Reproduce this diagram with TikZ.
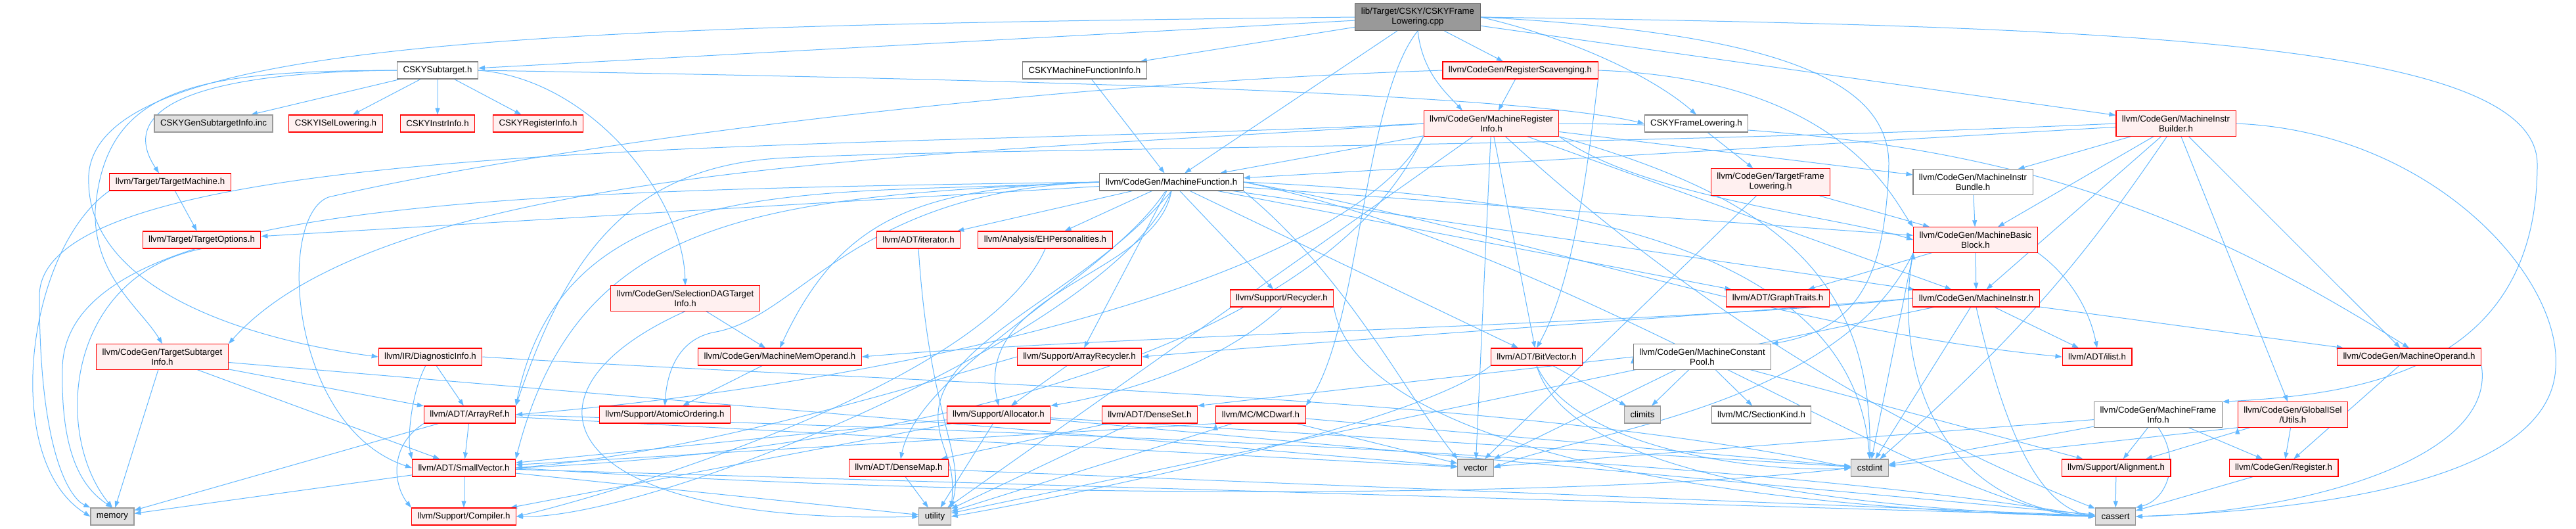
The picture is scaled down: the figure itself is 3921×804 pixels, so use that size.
\documentclass[tikz,border=0pt]{standalone}
\usepackage{fontspec}
\setmainfont{Liberation Sans}
\usetikzlibrary{arrows.meta}
\definecolor{edgeblue}{HTML}{63B8FF}
\definecolor{redfill}{HTML}{FFF0F0}
\definecolor{greyfill}{HTML}{E0E0E0}
\definecolor{greyline}{HTML}{999999}
\definecolor{plainline}{HTML}{808080}
\definecolor{rootfill}{HTML}{999999}
\definecolor{rootline}{HTML}{666666}
\pgfdeclarelayer{edges}
\pgfsetlayers{edges,main}

\begin{document}
\begin{tikzpicture}[x=1pt, y=1pt,
  box/.style={rectangle, align=center, line width=1.1pt, inner xsep=9pt, inner ysep=6.8pt,
              minimum height=26pt, font=\fontsize{13.3}{15}\selectfont},
  redbox/.style={box, draw=red, fill=redfill},
  greybox/.style={box, draw=greyline, fill=greyfill},
  plainbox/.style={box, draw=plainline, fill=white},
  rootbox/.style={box, draw=rootline, fill=rootfill},
  dep/.style={edgeblue, line width=1pt, -{Triangle[length=10pt,width=7pt]}}]
  \useasboundingbox (0,0) rectangle (3921,-804);
  % The source file
  \node[rootbox] (root) at (2158,-26) {lib/Target/CSKY/CSKYFrame\\Lowering.cpp};
  % Row 1
  \node[plainbox] (sub) at (666,-107) {CSKYSubtarget.h};
  \node[plainbox] (mfi) at (1651,-107) {CSKYMachineFunctionInfo.h};
  \node[redbox] (rs) at (2314,-107) {llvm/CodeGen/RegisterScavenging.h};
  % Row 2
  \node[greybox] (gen) at (325,-188) {CSKYGenSubtargetInfo.inc};
  \node[redbox] (isel) at (511,-188) {CSKYISelLowering.h};
  \node[redbox] (iinfo) at (666,-188) {CSKYInstrInfo.h};
  \node[redbox] (rinfo) at (819,-188) {CSKYRegisterInfo.h};
  \node[redbox] (mri) at (2270,-188) {llvm/CodeGen/MachineRegister\\Info.h};
  \node[plainbox] (cfl) at (2582,-188) {CSKYFrameLowering.h};
  \node[redbox] (mib) at (3312,-188) {llvm/CodeGen/MachineInstr\\Builder.h};
  % Row 3
  \node[redbox] (tm) at (259,-277) {llvm/Target/TargetMachine.h};
  \node[plainbox] (mf) at (1783,-277) {llvm/CodeGen/MachineFunction.h};
  \node[redbox] (tfl) at (2695,-277) {llvm/CodeGen/TargetFrame\\Lowering.h};
  \node[plainbox] (mibn) at (3003,-277) {llvm/CodeGen/MachineInstr\\Bundle.h};
  % Row 4
  \node[redbox] (to) at (307,-365) {llvm/Target/TargetOptions.h};
  \node[redbox] (iter) at (1398,-365) {llvm/ADT/iterator.h};
  \node[redbox] (ehp) at (1591,-365) {llvm/Analysis/EHPersonalities.h};
  \node[redbox] (mbb) at (3007,-365) {llvm/CodeGen/MachineBasic\\Block.h};
  % Row 5
  \node[redbox] (sdag) at (1043,-454) {llvm/CodeGen/SelectionDAGTarget\\Info.h};
  \node[redbox] (rec) at (1951,-454) {llvm/Support/Recycler.h};
  \node[redbox] (gt) at (2706,-454) {llvm/ADT/GraphTraits.h};
  \node[redbox] (mi) at (3008,-454) {llvm/CodeGen/MachineInstr.h};
  % Row 6
  \node[redbox] (tsi) at (247,-543) {llvm/CodeGen/TargetSubtarget\\Info.h};
  \node[redbox] (diag) at (655,-543) {llvm/IR/DiagnosticInfo.h};
  \node[redbox] (mmo) at (1187,-543) {llvm/CodeGen/MachineMemOperand.h};
  \node[redbox] (arec) at (1643,-543) {llvm/Support/ArrayRecycler.h};
  \node[redbox] (bv) at (2339,-543) {llvm/ADT/BitVector.h};
  \node[plainbox] (mcp) at (2591,-543) {llvm/CodeGen/MachineConstant\\Pool.h};
  \node[redbox] (ilist) at (3192,-543) {llvm/ADT/ilist.h};
  \node[redbox] (mo) at (3667,-543) {llvm/CodeGen/MachineOperand.h};
  % Row 7
  \node[redbox] (aref) at (715,-631) {llvm/ADT/ArrayRef.h};
  \node[redbox] (ao) at (1012,-631) {llvm/Support/AtomicOrdering.h};
  \node[redbox] (alloc) at (1520,-631) {llvm/Support/Allocator.h};
  \node[redbox] (dset) at (1750,-631) {llvm/ADT/DenseSet.h};
  \node[redbox] (mcd) at (1919,-631) {llvm/MC/MCDwarf.h};
  \node[greybox] (climits) at (2500,-631) {climits};
  \node[plainbox] (sk) at (2681,-631) {llvm/MC/SectionKind.h};
  \node[plainbox] (mfri) at (3285,-631) {llvm/CodeGen/MachineFrame\\Info.h};
  \node[redbox] (gisel) at (3490,-631) {llvm/CodeGen/GlobalISel\\/Utils.h};
  % Row 8
  \node[redbox] (sv) at (706,-712) {llvm/ADT/SmallVector.h};
  \node[redbox] (dmap) at (1368,-712) {llvm/ADT/DenseMap.h};
  \node[greybox] (vector) at (2246,-712) {vector};
  \node[greybox] (cstdint) at (2846,-712) {cstdint};
  \node[redbox] (align) at (3221,-712) {llvm/Support/Alignment.h};
  \node[redbox] (reg) at (3476,-712) {llvm/CodeGen/Register.h};
  % Row 9
  \node[greybox] (memory) at (171,-786) {memory};
  \node[redbox] (comp) at (706,-786) {llvm/Support/Compiler.h};
  \node[greybox] (utility) at (1423,-786) {utility};
  \node[greybox] (cassert) at (3220,-786) {cassert};

  \begin{pgfonlayer}{edges}
  % Includes of the source file
  \draw[dep] (root) edge (sub) edge (mfi) edge (rs) edge (mib) edge (mf);
  \draw[dep] (root.west) .. controls (800,-40) and (120,-60) .. (135,-280)
             .. controls (140,-450) and (400,-520) .. (diag.west);
  \draw[dep] (root.east) .. controls (3200,-40) and (3862,-60) .. (3862,-250)
             .. controls (3862,-560) and (3600,-600) .. (mfri.north east);
  \draw[dep] (root.east) .. controls (2700,-50) and (2875,-120) .. (2875,-250)
             .. controls (2870,-420) and (2830,-500) .. (mcp.north east);
  \draw[dep] (root.south) .. controls (2075,-150) and (2070,-500) .. (mcd.north east);
  \draw[dep] (root.east) .. controls (2400,-60) and (2520,-120) .. (cfl.north);
  \draw[dep] (root.south) .. controls (2165,-110) and (2200,-140) .. ([xshift=-44pt]mri.north);
  % CSKYSubtarget.h
  \draw[dep] (sub) edge (gen) edge (isel) edge (iinfo) edge (rinfo);
  \draw[dep] (sub.west) .. controls (300,-108) and (160,-130) .. (145,-320)
             .. controls (142,-420) and (215,-470) .. (tsi.north);
  \draw[dep] (sub.west) .. controls (280,-110) and (180,-170) .. ([xshift=-17pt]tm.north);
  \draw[dep] (sub.east) .. controls (900,-120) and (1040,-300) .. (sdag.north);
  \draw[dep] (sub.east) .. controls (1500,-120) and (2300,-140) .. (cfl.west);
  % RegisterScavenging.h and MachineRegisterInfo.h
  \draw[dep] (mfi) edge (mf);
  \draw[dep] (rs) edge (mri);
  \draw[dep] (rs.east) .. controls (2800,-120) and (2880,-300) .. (mbb.north west);
  \draw[dep] (rs.south east) .. controls (2420,-220) and (2400,-420) .. (bv.north);
  \draw[dep] (rs.west) .. controls (1500,-130) and (800,-230) .. (500,-300)
             .. controls (420,-330) and (440,-650) .. (sv.west);
  \draw[dep] (mri) edge (mf) edge (mi) edge (mibn) edge (utility) edge (vector) edge (bv);
  \draw[dep] (mri) .. controls (2550,-446) and (2866,-646) .. (cassert);
  \draw[dep] (mri.south east) .. controls (2700,-300) and (2850,-420) .. (cstdint.north);
  \draw[dep] (mri.south east) .. controls (2500,-300) and (2800,-330) .. (mbb.west);
  \draw[dep] (mri.east) .. controls (3000,-190) and (3300,-300) .. (mo.north);
  \draw[dep] (mri.west) .. controls (1500,-235) and (600,-240) .. (tsi.north east);
  \draw[dep] (mri.south west) .. controls (2050,-420) and (1400,-580) .. (aref.east);
  \draw[dep] (mri.south west) .. controls (2000,-560) and (1300,-690) .. (sv.east);
  \draw[dep] (mri.west) .. controls (1300,-230) and (60,-200) .. (60,-450)
             .. controls (60,-700) and (110,-760) .. (memory.north west);
  \draw[dep] (cfl) edge (tfl);
  % MachineInstrBuilder.h
  \draw[dep] (mib) edge (gisel) edge (mbb) edge (mf) edge (mi) edge (mibn) edge (mo);
  \draw[dep] (mib) .. controls (3200,-350) and (3110,-480) .. (cstdint);
  \draw[dep] (mib.west) .. controls (2400,-225) and (1500,-225) .. (1200,-240)
             .. controls (950,-250) and (860,-400) .. (aref.north east);
  \draw[dep] (mib.east) .. controls (3700,-200) and (3900,-420) .. (3890,-560)
             .. controls (3880,-760) and (3400,-780) .. (cassert.east);
  \draw[dep] (tm) edge (to);
  \draw[dep] (tm.south west) .. controls (40,-380) and (0,-700) .. (memory.west);
  % MachineFunction.h
  \draw[dep] (mf) edge (bv) edge (gt) edge (iter) edge (ehp) edge (mbb) edge (mi)
             edge (arec) edge (rec) edge (to);
  \draw[dep] (mf) .. controls (1690,-420) and (1400,-560) .. (dmap);
  \draw[dep] (mf.east) .. controls (2300,-350) and (2700,-500) .. (ilist.west);
  \draw[dep] (mf.east) .. controls (2400,-380) and (2950,-780) .. (cassert.west);
  \draw[dep] (mf.east) .. controls (2400,-300) and (2820,-380) .. (cstdint.north);
  \draw[dep] (mf.west) .. controls (1250,-300) and (860,-250) .. (aref.north east);
  \draw[dep] (mf.west) .. controls (1150,-300) and (880,-330) .. (sv.north east);
  \draw[dep] (mf.south) .. controls (1700,-500) and (1000,-790) .. (comp.east);
  \draw[dep] (mf.west) .. controls (1400,-285) and (1280,-330) .. (mmo.north);
  \draw[dep] (mf.west) .. controls (1300,-290) and (1220,-480) .. (1090,-505)
             .. controls (1030,-515) and (1015,-570) .. (ao.north);
  \draw[dep] (mf.west) .. controls (800,-290) and (100,-300) .. (95,-560)
             .. controls (92,-700) and (130,-745) .. (memory.north);
  \draw[dep] (mf.south) .. controls (1760,-420) and (1480,-440) .. (alloc.north);
  \draw[dep] (mf.south) .. controls (1650,-450) and (1420,-520) .. (1428,-640)
             .. controls (1432,-690) and (1455,-700) .. (utility.north east);
  \draw[dep] (mf.south east) .. controls (2050,-420) and (2140,-600) .. (vector.north west);
  % MachineBasicBlock.h and MachineInstr.h
  \draw[dep] (mibn) edge (mbb);
  \draw[dep] (tfl) edge (mbb) edge (vector);
  \draw[dep] (mbb) edge (gt) edge (mi);
  \draw[dep] (mbb.south west) edge (cstdint);
  \draw[dep] (mbb.south east) .. controls (3150,-420) and (3180,-470) .. (ilist.north);
  \draw[dep] (mbb.south west) .. controls (2880,-560) and (2950,-770) .. (cassert.west);
  \draw[dep] (mbb.south west) .. controls (2800,-620) and (2400,-660) .. (vector.east);
  \draw[dep] (mi) edge (mo) edge (ilist) edge (cstdint) edge (utility);
  \draw[dep] (mi.west) .. controls (2600,-490) and (1700,-510) .. (mmo.east);
  \draw[dep] (mi.west) .. controls (2600,-480) and (2000,-520) .. (arec.east);
  \draw[dep] (mi.south) .. controls (3050,-650) and (3100,-770) .. (cassert.west);
  % Lower right
  \draw[dep] (mo) edge (reg);
  \draw[dep] (mo.south east) .. controls (3800,-700) and (3500,-780) .. (cassert.east);
  \draw[dep] (gisel) edge (reg) edge (align);
  \draw[dep] (gisel.south west) edge (cstdint);
  \draw[dep] (mfri) edge (reg) edge (align) edge (vector) edge (cstdint);
  \draw[dep] (mfri.south) .. controls (3320,-700) and (3300,-760) .. (cassert.north east);
  \draw[dep] (align) edge (cassert);
  \draw[dep] (reg) edge (cassert);
  \draw[dep] (mcp) edge (climits) edge (sk) edge (align) edge (vector);
  \draw[dep] (mcp.west) edge (dset.north east);
  \draw[dep] (bv) edge (climits);
  \draw[dep] (bv.south) .. controls (2380,-700) and (2700,-770) .. (cassert.west);
  \draw[dep] (bv.south) .. controls (2400,-690) and (2700,-720) .. (cstdint.west);
  \draw[dep] (bv.south west) .. controls (2150,-650) and (1600,-760) .. (utility.east);
  % Lower middle
  \draw[dep] (dset) edge (dmap) edge (utility);
  \draw[dep] (dmap) edge (utility) edge (cassert);
  \draw[dep] (alloc) edge (comp) edge (cassert) edge (cstdint) edge (utility) edge (sv);
  \draw[dep] (arec) edge (alloc);
  \draw[dep] (arec.west) .. controls (1350,-600) and (1050,-690) .. (sv.east);
  \draw[dep] (rec.south) .. controls (1850,-560) and (1700,-600) .. (alloc.north east);
  \draw[dep] (rec.south east) .. controls (2060,-650) and (2500,-770) .. (cassert.west);
  \draw[dep] (mcd) edge (vector) edge (cstdint) edge (utility);
  \draw[dep] (mcd.south west) edge (sv);
  \draw[dep] (ehp.south) .. controls (1500,-590) and (900,-760) .. (comp.east);
  \draw[dep] (iter.south) .. controls (1415,-640) and (1470,-690) .. (utility.north east);
  \draw[dep] (sdag) edge (mmo);
  \draw[dep] (sdag.south) .. controls (760,-600) and (850,-800) .. (utility.west);
  \draw[dep] (mmo) edge (ao);
  % Lower left
  \draw[dep] (tsi) edge (memory) edge (aref) edge (sv) edge (vector);
  \draw[dep] (diag) edge (aref);
  \draw[dep] (diag.east) .. controls (1400,-585) and (2300,-600) .. (cstdint.west);
  \draw[dep] (diag) .. controls (625,-600) and (620,-670) .. (sv.north west);
  \draw[dep] (aref) edge (sv) edge (memory) edge (vector);
  \draw[dep] (aref.east) .. controls (1600,-660) and (2600,-690) .. (cassert.west);
  \draw[dep] (aref.south west) .. controls (590,-680) and (600,-740) .. (comp.north west);
  \draw[dep] (sv) edge (comp) edge (cassert) edge (memory) edge (utility);
  \draw[dep] (sv.east) .. controls (1500,-760) and (2400,-760) .. (cstdint.west);
  \draw[dep] (to.south) .. controls (100,-420) and (80,-660) .. (memory.north);
  \end{pgfonlayer}
\end{tikzpicture}
\end{document}
